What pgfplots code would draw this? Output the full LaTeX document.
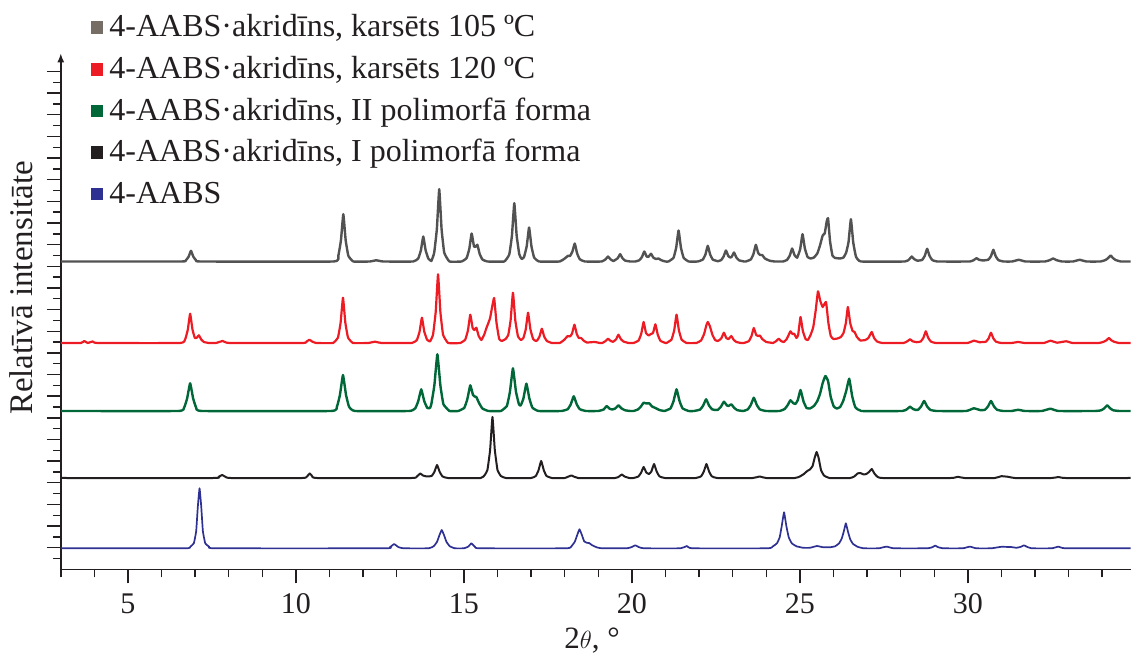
\documentclass[border=0pt]{standalone}
\usepackage{pgfplots}
\pgfplotsset{compat=1.18}
\usepackage{fontspec}
\setmainfont{Liberation Serif}
\usetikzlibrary{arrows.meta}
\definecolor{cgray}{RGB}{82,82,82}
\definecolor{lgray}{RGB}{118,110,101}
\definecolor{cred}{RGB}{237,28,36}
\definecolor{cgreen}{RGB}{0,104,56}
\definecolor{cblack}{RGB}{35,31,32}
\definecolor{cblue}{RGB}{46,49,146}
\begin{document}
\begin{tikzpicture}
\begin{axis}[
 scale only axis, width=1069.9pt, height=516pt,
 xmin=3, xmax=34.85, ymin=0, ymax=516,
 axis x line=bottom, axis y line=left,
 x axis line style={-, line width=1.4pt, draw=cblack},
 y axis line style={-{Latex[length=9pt,width=7pt]}, line width=1.4pt, draw=cblack},
 tick align=outside,
 xtick={5,10,...,30}, minor xtick={3,4,...,34},
 ytick={21.65,43.3,...,500}, minor ytick={10.825,32.475,...,490},
 yticklabels={},
 major tick length=14pt, minor tick length=8pt,
 every tick/.style={line width=1.4pt, draw=cblack},
 /pgf/number format/assume math mode=true,
 xticklabel style={font=\fontsize{30}{30}\selectfont, anchor=base, yshift=-30pt, text=cblack},
 xlabel={2$\theta$, °},
 xlabel style={at={(axis description cs:0.4965,0)}, anchor=base, yshift=-79pt, font=\fontsize{31}{31}\selectfont, text=cblack},
 ylabel={Relatīvā intensitāte},
 ylabel style={at={(axis description cs:-0.026,0.5453)}, anchor=base, font=\fontsize{33}{33}\selectfont, text=cblack},
 legend style={at={(axis description cs:0.0282,1.0783)}, anchor=north west, draw=none, fill=none, inner sep=0pt, outer sep=0pt, font=\fontsize{32}{38}\selectfont, row sep=11.6pt, nodes={inner xsep=6pt, inner ysep=0pt, text height=24pt, text depth=6pt, text=cblack}},
 legend cell align=left,
 legend image code/.code={\fill[#1] (0pt,-6pt) rectangle (12.5pt,6.5pt);},
 every axis plot/.append style={smooth, tension=0.2, line join=round, line cap=round},
]
\addlegendimage{fill=lgray, draw=none}
\addlegendentry{4-AABS·akridīns, karsēts 105 ºC}
\addlegendimage{fill=cred, draw=none}
\addlegendentry{4-AABS·akridīns, karsēts 120 ºC}
\addlegendimage{fill=cgreen, draw=none}
\addlegendentry{4-AABS·akridīns, II polimorfā forma}
\addlegendimage{fill=cblack, draw=none}
\addlegendentry{4-AABS·akridīns, I polimorfā forma}
\addlegendimage{fill=cblue, draw=none}
\addlegendentry{4-AABS}

% gray: heated 105 C
\addplot[cgray, line width=2.4pt, forget plot] table[row sep=\\, y expr=\thisrowno{1}+307.9]{
x y \\
3.0 0 \\ 6.575 0 \\ 6.725 1.3 \\ 6.805 4.8 \\ 6.875 10.7 \\ 6.945 4.8 \\ 7.025 1.3 \\ 7.175 0 \\
11.11 0 \\ 11.26 5.7 \\ 11.34 21.3 \\ 11.41 47.3 \\ 11.48 21.3 \\ 11.56 5.7 \\ 11.71 0 \\
12.2 0 \\ 12.39 1.2 \\ 12.6 0 \\
13.49 0 \\ 13.64 3 \\ 13.72 11.3 \\ 13.79 25 \\ 13.86 11.3 \\ 13.94 3 \\ 14.03 0.5 \\ 14.115 8.7 \\ 14.195 32.5 \\ 14.265 72.3 \\ 14.335 32.5 \\ 14.415 8.7 \\ 14.57 0 \\
14.93 0 \\ 15.08 3.4 \\ 15.16 12.6 \\ 15.23 28 \\ 15.30 15 \\ 15.34 14.5 \\ 15.40 16.7 \\ 15.47 7.5 \\ 15.55 2 \\ 15.70 0 \\
16.20 0 \\ 16.35 7 \\ 16.43 26 \\ 16.50 58.3 \\ 16.57 26 \\ 16.65 7 \\ 16.72 2.5 \\ 16.79 4.5 \\ 16.87 15.3 \\ 16.94 34 \\ 17.01 15.3 \\ 17.09 4 \\ 17.24 0 \\
17.85 0 \\ 18.0 3 \\ 18.10 5.7 \\ 18.16 5.5 \\ 18.23 10 \\ 18.30 18 \\ 18.37 8.1 \\ 18.45 2.2 \\ 18.60 0 \\
19.1 0 \\ 19.22 2.3 \\ 19.29 5 \\ 19.36 2.3 \\ 19.45 0.5 \\ 19.58 3.3 \\ 19.65 7.3 \\ 19.72 3.3 \\ 19.80 0.9 \\ 19.95 0 \\
20.10 0 \\ 20.22 1.2 \\ 20.30 4.5 \\ 20.37 10 \\ 20.44 5 \\ 20.49 4.5 \\ 20.57 7.7 \\ 20.64 3.8 \\ 20.72 2.5 \\ 20.79 3 \\ 20.88 1.2 \\ 21.0 0 \\
21.09 0 \\ 21.24 3.7 \\ 21.32 14 \\ 21.39 31 \\ 21.46 14 \\ 21.54 3.7 \\ 21.69 0 \\
21.96 0 \\ 22.11 1.9 \\ 22.19 7 \\ 22.26 15.7 \\ 22.33 7 \\ 22.41 1.9 \\ 22.56 0.3 \\
22.66 1.5 \\ 22.73 5 \\ 22.80 11 \\ 22.87 5.5 \\ 22.93 4 \\ 22.97 4.5 \\ 23.04 9 \\ 23.11 4 \\ 23.19 1.2 \\ 23.34 0 \\
23.39 0 \\ 23.54 2 \\ 23.62 7.5 \\ 23.69 16.7 \\ 23.76 8.5 \\ 23.82 6.5 \\ 23.88 6.5 \\ 23.96 3 \\ 24.10 0.8 \\ 24.25 0 \\
24.50 0 \\ 24.62 1.6 \\ 24.70 5.9 \\ 24.77 13 \\ 24.84 6.5 \\ 24.92 3.8 \\ 25.01 12.3 \\ 25.08 27.3 \\ 25.15 13 \\ 25.23 4.5 \\ 25.32 3 \\ 25.42 4 \\ 25.52 8 \\ 25.60 16 \\ 25.68 26 \\ 25.74 28 \\ 25.80 40 \\ 25.84 43.3 \\ 25.90 20 \\ 25.97 6 \\ 26.05 3.5 \\ 26.11 3.3 \\ 26.20 3 \\ 26.30 4 \\ 26.38 9 \\ 26.45 19.5 \\ 26.52 42.3 \\ 26.59 19 \\ 26.67 5 \\ 26.82 0 \\
28.13 0 \\ 28.26 2.3 \\ 28.33 5 \\ 28.40 2.5 \\ 28.50 0.8 \\ 28.64 1.5 \\ 28.72 5.7 \\ 28.79 12.7 \\ 28.86 5.7 \\ 28.94 1.5 \\ 29.09 0 \\
30.06 0 \\ 30.18 1.5 \\ 30.26 3.3 \\ 30.33 1.8 \\ 30.45 1 \\ 30.61 1.8 \\ 30.69 5.3 \\ 30.76 11.7 \\ 30.83 5.3 \\ 30.91 1.4 \\ 31.06 0 \\
31.32 0 \\ 31.52 1.7 \\ 31.72 0 \\
32.30 0 \\ 32.45 1.5 \\ 32.54 3 \\ 32.63 1.5 \\ 32.80 0 \\
33.13 0 \\ 33.33 1.7 \\ 33.53 0 \\
33.95 0 \\ 34.10 1.5 \\ 34.18 3.5 \\ 34.25 6 \\ 34.32 3.5 \\ 34.40 1.5 \\ 34.55 0 \\ 34.85 0 \\
};

% red: heated 120 C
\addplot[cred, line width=2.2pt, forget plot] table[row sep=\\, y expr=\thisrowno{1}+226.4]{
x y \\
3.0 0 \\ 3.6 0 \\ 3.7 2 \\ 3.8 0 \\ 3.95 1.5 \\ 4.1 0 \\
6.55 0 \\ 6.70 3.5 \\ 6.78 13.2 \\ 6.85 29.3 \\ 6.92 13.5 \\ 6.99 5 \\ 7.04 5 \\ 7.11 7.7 \\ 7.18 3.5 \\ 7.26 1 \\ 7.41 0 \\
7.62 0 \\ 7.82 2 \\ 8.02 0 \\
10.2 0 \\ 10.32 1.5 \\ 10.40 3.3 \\ 10.48 1.5 \\ 10.6 0 \\
11.10 0 \\ 11.25 5.4 \\ 11.33 20.4 \\ 11.40 45.3 \\ 11.47 20.4 \\ 11.55 5.4 \\ 11.70 0 \\
12.15 0 \\ 12.35 1.3 \\ 12.55 0 \\
13.45 0 \\ 13.60 3 \\ 13.68 11.4 \\ 13.75 25.3 \\ 13.82 11.4 \\ 13.90 3.5 \\ 13.99 1.5 \\ 14.08 8.2 \\ 14.16 31 \\ 14.23 68.7 \\ 14.30 31 \\ 14.38 8.2 \\ 14.53 0 \\
14.89 0 \\ 15.04 3.4 \\ 15.12 12.7 \\ 15.19 28.3 \\ 15.26 15 \\ 15.31 13 \\ 15.37 15.3 \\ 15.44 7 \\ 15.52 3 \\ 15.60 8 \\ 15.67 15 \\ 15.72 19.3 \\ 15.78 25 \\ 15.84 36 \\ 15.90 45 \\ 15.97 20.3 \\ 16.05 4 \\ 16.13 2 \\ 16.24 4 \\ 16.32 8 \\ 16.39 22.6 \\ 16.46 50.3 \\ 16.53 22.6 \\ 16.61 6.5 \\ 16.70 3 \\ 16.77 5 \\ 16.84 13.6 \\ 16.91 30.3 \\ 16.98 13.6 \\ 17.06 4 \\ 17.14 2 \\ 17.18 2.5 \\ 17.25 6.4 \\ 17.32 14.3 \\ 17.39 6.4 \\ 17.47 2 \\ 17.62 0 \\
17.85 0 \\ 17.98 3 \\ 18.09 7 \\ 18.16 6.5 \\ 18.22 9.5 \\ 18.29 18.3 \\ 18.36 9 \\ 18.42 5 \\ 18.49 5 \\ 18.56 2.5 \\ 18.66 0.5 \\ 18.89 1 \\ 19.05 0 \\
19.12 0 \\ 19.22 2 \\ 19.29 4.3 \\ 19.36 2.2 \\ 19.44 1.2 \\ 19.53 3.7 \\ 19.60 8.3 \\ 19.67 4 \\ 19.75 1.5 \\ 19.90 0 \\
20.05 0 \\ 20.20 2.5 \\ 20.28 9.5 \\ 20.35 21 \\ 20.42 10 \\ 20.50 7.5 \\ 20.56 9 \\ 20.63 10 \\ 20.70 18.7 \\ 20.77 8.4 \\ 20.85 2.2 \\ 21.0 0 \\
21.03 0 \\ 21.18 3.4 \\ 21.26 12.7 \\ 21.33 28.3 \\ 21.40 12.7 \\ 21.48 3.4 \\ 21.63 0 \\
21.92 0 \\ 22.06 2.5 \\ 22.15 9 \\ 22.22 18 \\ 22.26 21 \\ 22.32 17 \\ 22.40 8 \\ 22.48 3 \\ 22.56 2 \\ 22.66 4.5 \\ 22.74 10.3 \\ 22.81 5 \\ 22.88 4 \\ 22.96 7 \\ 23.03 3.2 \\ 23.11 1 \\ 23.25 0 \\
23.33 0 \\ 23.48 1.8 \\ 23.56 6.8 \\ 23.63 15 \\ 23.70 8 \\ 23.76 7 \\ 23.81 7.5 \\ 23.88 4 \\ 24.0 1 \\ 24.10 0.5 \\
24.20 0 \\ 24.30 2 \\ 24.37 4.3 \\ 24.44 2 \\ 24.52 1 \\ 24.60 3.5 \\ 24.66 7.5 \\ 24.72 11.7 \\ 24.78 9 \\ 24.83 9.3 \\ 24.90 5 \\ 24.95 8 \\ 25.02 26 \\ 25.09 12 \\ 25.17 4 \\ 25.24 3 \\ 25.32 8 \\ 25.40 16 \\ 25.47 32 \\ 25.54 51.7 \\ 25.61 42 \\ 25.68 36 \\ 25.78 41 \\ 25.85 20 \\ 25.92 7 \\ 26.00 4 \\ 26.12 4.5 \\ 26.22 6 \\ 26.30 10 \\ 26.37 20 \\ 26.43 36 \\ 26.50 20 \\ 26.57 12 \\ 26.63 11 \\ 26.70 6 \\ 26.80 2.5 \\ 26.95 3 \\ 27.04 5 \\ 27.14 11 \\ 27.21 5 \\ 27.30 1.5 \\ 27.45 0 \\
28.08 0 \\ 28.20 1.7 \\ 28.28 3.7 \\ 28.36 1.7 \\ 28.48 0.8 \\ 28.60 1.5 \\ 28.68 5.3 \\ 28.75 11.7 \\ 28.82 5.3 \\ 28.90 1.5 \\ 29.05 0 \\
29.98 0 \\ 30.18 2.3 \\ 30.35 0.8 \\ 30.54 1.3 \\ 30.62 4.6 \\ 30.69 10.3 \\ 30.76 4.6 \\ 30.84 1.3 \\ 30.99 0 \\
31.3 0 \\ 31.5 1 \\ 31.7 0 \\
32.26 0 \\ 32.46 2.3 \\ 32.66 0.3 \\ 32.93 1.7 \\ 33.13 0 \\
33.90 0 \\ 34.05 1.3 \\ 34.13 2.8 \\ 34.20 5 \\ 34.27 2.8 \\ 34.35 1.3 \\ 34.50 0 \\ 34.85 0 \\
};

% green: polymorph II
\addplot[cgreen, line width=2.4pt, forget plot] table[row sep=\\, y expr=\thisrowno{1}+158.4]{
x y \\
3.0 0 \\ 6.49 0 \\ 6.67 3.3 \\ 6.76 12.5 \\ 6.85 27.7 \\ 6.94 12.5 \\ 7.03 3.3 \\ 7.21 0 \\
11.04 0 \\ 11.22 4.3 \\ 11.31 16.2 \\ 11.40 36 \\ 11.49 16.2 \\ 11.58 4.3 \\ 11.76 0 \\
13.37 0 \\ 13.55 2.6 \\ 13.64 9.8 \\ 13.73 21.7 \\ 13.82 9.8 \\ 13.91 3 \\ 13.99 3 \\ 14.03 6.8 \\ 14.12 25.5 \\ 14.21 56.7 \\ 14.30 25.5 \\ 14.39 6.8 \\ 14.57 0 \\
14.83 0 \\ 15.01 3.1 \\ 15.10 11.6 \\ 15.19 25.7 \\ 15.27 16 \\ 15.32 14.5 \\ 15.37 14 \\ 15.45 8 \\ 15.55 2.5 \\ 15.73 0 \\
16.10 0 \\ 16.28 5.1 \\ 16.37 19.2 \\ 16.46 42.7 \\ 16.55 19.2 \\ 16.64 6.5 \\ 16.69 5.5 \\ 16.77 12.3 \\ 16.86 27.3 \\ 16.95 12.3 \\ 17.04 3.3 \\ 17.22 0 \\
17.91 0 \\ 18.09 1.8 \\ 18.18 6.6 \\ 18.27 14.7 \\ 18.36 6.6 \\ 18.45 1.8 \\ 18.63 0 \\
19.0 0 \\ 19.16 1.5 \\ 19.25 5 \\ 19.34 2.2 \\ 19.42 1.5 \\ 19.51 2.6 \\ 19.60 5.7 \\ 19.69 2.6 \\ 19.80 0.7 \\ 19.95 0 \\
20.05 0 \\ 20.18 1.5 \\ 20.27 4.5 \\ 20.35 8.3 \\ 20.43 7.5 \\ 20.52 7.7 \\ 20.60 4.5 \\ 20.70 3 \\ 20.82 1 \\ 20.97 0 \\
21.15 2.6 \\ 21.24 9.8 \\ 21.33 21.7 \\ 21.42 9.8 \\ 21.51 2.6 \\ 21.69 0 \\
21.85 0 \\ 22.03 1.4 \\ 22.12 5.3 \\ 22.21 11.7 \\ 22.30 5.3 \\ 22.39 1.6 \\ 22.50 1 \\
22.56 1.2 \\ 22.65 4.2 \\ 22.74 9.3 \\ 22.83 5.5 \\ 22.88 5 \\ 22.96 6.7 \\ 23.05 3 \\ 23.14 0.8 \\
23.32 0 \\ 23.45 1.6 \\ 23.54 6 \\ 23.63 13.3 \\ 23.72 6 \\ 23.81 1.6 \\ 23.99 0 \\
24.40 0 \\ 24.55 2 \\ 24.64 6 \\ 24.72 10.7 \\ 24.80 8 \\ 24.87 7 \\ 24.94 11 \\ 25.02 21 \\ 25.11 9.5 \\ 25.20 3 \\ 25.30 2.5 \\ 25.42 5 \\ 25.52 10 \\ 25.60 17 \\ 25.68 28 \\ 25.76 35 \\ 25.84 30 \\ 25.92 14 \\ 26.01 4.5 \\ 26.10 2.5 \\ 26.20 4 \\ 26.29 10 \\ 26.38 20 \\ 26.47 32.3 \\ 26.56 14.5 \\ 26.65 3.9 \\ 26.83 0 \\
28.05 0 \\ 28.19 1.8 \\ 28.28 4.3 \\ 28.37 2 \\ 28.46 1 \\ 28.52 1.2 \\ 28.61 4.5 \\ 28.70 10 \\ 28.79 4.5 \\ 28.88 1.2 \\ 29.06 0 \\
29.95 0 \\ 30.18 2.7 \\ 30.38 0.8 \\ 30.51 1.2 \\ 30.60 4.5 \\ 30.69 10 \\ 30.78 4.5 \\ 30.87 1.2 \\ 31.05 0 \\
31.3 0 \\ 31.5 1.2 \\ 31.7 0 \\
32.2 0 \\ 32.46 2.3 \\ 32.7 0 \\
33.79 0 \\ 33.97 0.7 \\ 34.06 2.6 \\ 34.15 5.7 \\ 34.24 2.6 \\ 34.33 0.7 \\ 34.51 0 \\ 34.85 0 \\
};

% black: polymorph I
\addplot[cblack, line width=2.0pt, forget plot] table[row sep=\\, y expr=\thisrowno{1}+91.4]{
x y \\
3.0 0 \\ 7.55 0 \\ 7.70 1.2 \\ 7.80 3 \\ 7.90 1.2 \\ 8.05 0 \\
10.2 0 \\ 10.33 1.5 \\ 10.41 4.5 \\ 10.48 2 \\ 10.62 0 \\
13.45 0 \\ 13.60 1.5 \\ 13.70 4.5 \\ 13.78 2.5 \\ 13.90 1.5 \\ 14.04 2 \\ 14.12 6 \\ 14.20 13 \\ 14.28 6 \\ 14.36 1.6 \\ 14.52 0 \\
15.50 0 \\ 15.62 3 \\ 15.70 8 \\ 15.78 28 \\ 15.85 61 \\ 15.92 28 \\ 16.00 8 \\ 16.10 2 \\ 16.25 0 \\
17.00 0 \\ 17.14 2 \\ 17.22 7.6 \\ 17.30 17 \\ 17.38 7.6 \\ 17.46 2 \\ 17.62 0 \\
18.0 0 \\ 18.2 2.5 \\ 18.4 0 \\
19.5 0 \\ 19.62 1.5 \\ 19.70 3.5 \\ 19.78 1.5 \\ 19.92 0 \\
20.05 0 \\ 20.19 1.4 \\ 20.27 5 \\ 20.35 11 \\ 20.43 5.5 \\ 20.51 4 \\ 20.58 6.5 \\ 20.66 14 \\ 20.74 6.3 \\ 20.82 1.7 \\ 20.98 0 \\
21.9 0 \\ 22.06 1.7 \\ 22.14 6.3 \\ 22.22 14 \\ 22.30 6.3 \\ 22.38 1.7 \\ 22.54 0 \\
23.6 0 \\ 23.8 1.5 \\ 24.0 0 \\
24.85 0 \\ 25.0 1.5 \\ 25.12 4 \\ 25.22 7 \\ 25.30 8.5 \\ 25.38 12 \\ 25.44 20 \\ 25.50 26 \\ 25.56 20 \\ 25.63 8 \\ 25.72 2.5 \\ 25.88 0 \\
26.50 0 \\ 26.62 1.5 \\ 26.72 4.5 \\ 26.80 5 \\ 26.90 3.5 \\ 26.98 4 \\ 27.06 6 \\ 27.14 9 \\ 27.22 4.5 \\ 27.30 1.5 \\ 27.46 0 \\
29.5 0 \\ 29.7 1.2 \\ 29.9 0 \\
30.8 0 \\ 31.0 1.8 \\ 31.2 1.2 \\ 31.4 0 \\
32.5 0 \\ 32.7 1 \\ 32.9 0 \\ 34.85 0 \\
};

% blue: 4-AABS
\addplot[cblue, line width=1.7pt, forget plot] table[row sep=\\, y expr=\thisrowno{1}+21.1]{
x y \\
3.0 0 \\ 6.70 0 \\ 6.85 1.5 \\ 6.96 5 \\ 7.03 17 \\ 7.08 42 \\ 7.13 60 \\ 7.18 42 \\ 7.23 17 \\ 7.30 5 \\ 7.42 1.5 \\ 7.60 0 \\
12.65 0 \\ 12.80 1.2 \\ 12.87 3 \\ 12.92 4.3 \\ 12.98 3 \\ 13.05 1.2 \\ 13.2 0 \\
13.95 0 \\ 14.10 2 \\ 14.20 6.5 \\ 14.27 13 \\ 14.34 18.3 \\ 14.41 13 \\ 14.48 6.5 \\ 14.58 2 \\ 14.73 0 \\
15.0 0 \\ 15.12 1.5 \\ 15.18 3.5 \\ 15.22 5 \\ 15.27 3.5 \\ 15.33 1.5 \\ 15.45 0 \\
18.05 0 \\ 18.20 2 \\ 18.30 6.5 \\ 18.37 13 \\ 18.44 19 \\ 18.51 13.5 \\ 18.58 7 \\ 18.66 5.5 \\ 18.73 5.2 \\ 18.82 3 \\ 18.95 1 \\ 19.10 0 \\
19.85 0 \\ 20.0 1.3 \\ 20.10 3 \\ 20.20 1.3 \\ 20.35 0 \\
21.45 0 \\ 21.64 2.3 \\ 21.80 0 \\
24.05 0 \\ 24.20 2 \\ 24.32 5 \\ 24.40 11 \\ 24.46 22 \\ 24.53 36 \\ 24.60 22 \\ 24.67 11 \\ 24.76 5 \\ 24.90 2 \\ 25.10 0.5 \\
25.30 0.5 \\ 25.51 2.3 \\ 25.70 1 \\
25.90 1 \\ 26.05 2 \\ 26.17 5 \\ 26.25 10 \\ 26.31 17 \\ 26.37 25 \\ 26.43 17 \\ 26.50 9 \\ 26.58 4.5 \\ 26.72 1.5 \\ 26.90 0 \\
27.35 0 \\ 27.58 1.7 \\ 27.80 0 \\
28.80 0 \\ 28.95 1.2 \\ 29.03 2.7 \\ 29.11 1.2 \\ 29.26 0 \\
29.85 0 \\ 30.06 1.7 \\ 30.25 0 \\
30.7 0 \\ 31.0 1.5 \\ 31.3 1.2 \\
31.45 0.5 \\ 31.58 1.5 \\ 31.67 3 \\ 31.76 1.5 \\ 31.90 0 \\
32.5 0 \\ 32.7 1.7 \\ 32.9 0 \\ 34.85 0 \\
};
\end{axis}
\pgfresetboundingbox
\path[use as bounding box] (-60.8pt,-85.6pt) rectangle (1071.2pt,569.4pt);
\end{tikzpicture}
\end{document}
